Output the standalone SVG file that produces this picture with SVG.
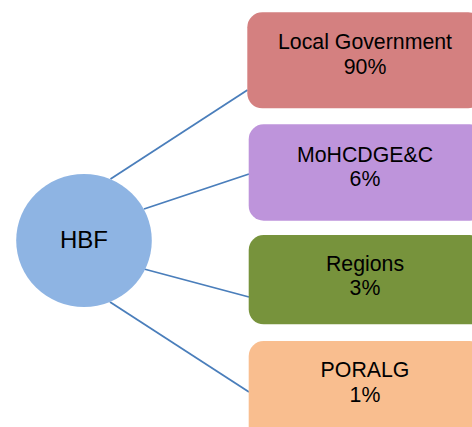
<svg xmlns="http://www.w3.org/2000/svg" width="472" height="427" viewBox="0 0 472 427">
<style>
.box{stroke:none}
.t{font-family:"Liberation Sans",Arial,sans-serif;font-size:21.3px;fill:#000;text-anchor:middle}
.c{stroke:#4A7EBB;stroke-width:1.8;fill:none}
</style>
<rect width="472" height="427" fill="#fff"/>
<g id="connectors">
<line class="c" x1="110.5" y1="179" x2="247.5" y2="90"/>
<line class="c" x1="144" y1="209" x2="249" y2="174"/>
<line class="c" x1="144" y1="269" x2="249" y2="297"/>
<line class="c" x1="110" y1="302" x2="249" y2="392"/>
</g>
<g id="hbf">
<ellipse cx="84" cy="240.5" rx="67.8" ry="66.5" fill="#8EB4E3"/>
<text class="t" x="84" y="248.3" style="font-size:24px">HBF</text>
</g>
<g id="local-government">
<rect class="box" x="247.3" y="12.3" width="236" height="96" rx="15" fill="#D48080"/>
<text class="t" x="365" y="49.3">Local Government</text>
<text class="t" x="365" y="74">90%</text>
</g>
<g id="mohcdgec">
<rect class="box" x="248.7" y="124.3" width="236" height="96.4" rx="15" fill="#BE94DB"/>
<text class="t" x="365" y="162.3">MoHCDGE&amp;C</text>
<text class="t" x="365" y="186">6%</text>
</g>
<g id="regions">
<rect class="box" x="248.7" y="235" width="236" height="89.3" rx="15" fill="#77933C"/>
<text class="t" x="365" y="270.7">Regions</text>
<text class="t" x="365" y="295">3%</text>
</g>
<g id="poralg">
<rect class="box" x="248.7" y="341" width="236" height="100" rx="15" fill="#F9BE8F"/>
<text class="t" x="365" y="376.7">PORALG</text>
<text class="t" x="365" y="401.7">1%</text>
</g>
</svg>
